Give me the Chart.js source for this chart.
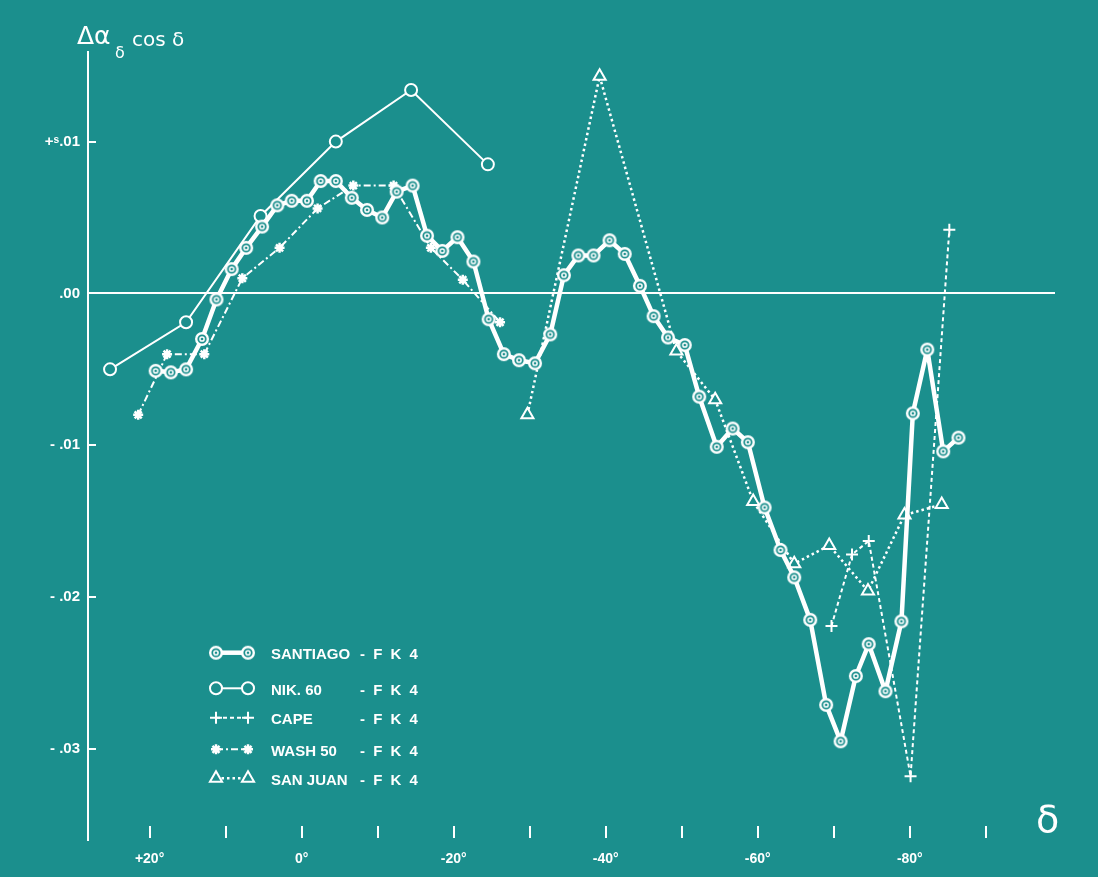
<!DOCTYPE html>
<html><head><meta charset="utf-8">
<script src="https://cdn.jsdelivr.net/npm/chart.js@4/dist/chart.umd.min.js"></script>
<style>
html,body{margin:0;padding:0;background:#1b8f8d;}
#wrap{position:relative;width:1098px;height:877px;overflow:hidden;background:#1b8f8d;}
#c{position:absolute;left:0;top:0;}
.t{position:absolute;color:#fff;white-space:pre;line-height:1;}
.leg{font:bold 15px 'Liberation Sans',Arial,sans-serif;}
.fk{letter-spacing:2px;}
.sym{font-family:'DejaVu Sans',sans-serif;}
</style></head><body>
<div id="wrap">
<canvas id="c" width="1098" height="877"></canvas>
<div class="t sym" style="left:77px;top:23px;font-size:25px;">Δα</div>
<div class="t sym" style="left:115px;top:45px;font-size:16px;">δ</div>
<div class="t sym" style="left:132px;top:29px;font-size:20px;">cos δ</div>
<div class="t sym" style="left:1036px;top:800px;font-size:38px;">δ</div>
<div class="t leg" style="left:271px;top:645px;">SANTIAGO</div><div class="t leg fk" style="left:360px;top:645px;">- F K 4</div>
<div class="t leg" style="left:271px;top:681px;">NIK. 60</div><div class="t leg fk" style="left:360px;top:681px;">- F K 4</div>
<div class="t leg" style="left:271px;top:710px;">CAPE</div><div class="t leg fk" style="left:360px;top:710px;">- F K 4</div>
<div class="t leg" style="left:271px;top:742px;">WASH 50</div><div class="t leg fk" style="left:360px;top:742px;">- F K 4</div>
<div class="t leg" style="left:271px;top:771px;">SAN JUAN</div><div class="t leg fk" style="left:360px;top:771px;">- F K 4</div>
</div>
<script>
// ---- data (declination in degrees, Δα_δ cos δ in seconds of time) ----
const santiagoDec = [19.2,17.2,15.2,13.1,11.2,9.2,7.3,5.2,3.2,1.3,-0.7,-2.5,-4.5,-6.6,-8.6,-10.6,-12.5,-14.6,-16.5,-18.5,-20.5,-22.6,-24.6,-26.6,-28.6,-30.7,-32.7,-34.5,-36.4,-38.4,-40.5,-42.5,-44.5,-46.3,-48.2,-50.4,-52.3,-54.6,-56.7,-58.7,-60.9,-63.0,-64.8,-66.9,-69.0,-70.9,-72.9,-74.6,-76.8,-78.9,-80.4,-82.3,-84.4,-86.4];
const santiagoVal = [-0.0051,-0.0052,-0.0050,-0.0030,-0.0004,0.0016,0.0030,0.0044,0.0058,0.0061,0.0061,0.0074,0.0074,0.0063,0.0055,0.0050,0.0067,0.0071,0.0038,0.0028,0.0037,0.0021,-0.0017,-0.0040,-0.0044,-0.0046,-0.0027,0.0012,0.0025,0.0025,0.0035,0.0026,0.0005,-0.0015,-0.0029,-0.0034,-0.0068,-0.0101,-0.0089,-0.0098,-0.0141,-0.0169,-0.0187,-0.0215,-0.0271,-0.0295,-0.0252,-0.0231,-0.0262,-0.0216,-0.0079,-0.0037,-0.0104,-0.0095];
const nikDec = [25.2,15.2,5.4,-4.5,-14.4,-24.5];
const nikVal = [-0.0050,-0.0019,0.0051,0.0100,0.0134,0.0085];
const capeDec = [-69.7,-72.4,-74.6,-80.1,-85.2];
const capeVal = [-0.0219,-0.0172,-0.0163,-0.0318,0.0042];
const washDec = [21.5,17.7,12.8,7.8,2.9,-2.1,-6.8,-12.1,-17.0,-21.2,-26.1];
const washVal = [-0.0080,-0.0040,-0.0040,0.0010,0.0030,0.0056,0.0071,0.0071,0.0030,0.0009,-0.0019];
const sanJuanDec = [-29.7,-39.2,-49.3,-54.4,-59.4,-64.8,-69.4,-74.5,-79.3,-84.2];
const sanJuanVal = [-0.0080,0.0143,-0.0038,-0.0070,-0.0137,-0.0178,-0.0166,-0.0196,-0.0146,-0.0139];
const seriesNames = ['SANTIAGO','NIK. 60','CAPE','WASH 50','SAN JUAN'];
const xTickValues = [20,10,0,-10,-20,-30,-40,-50,-60,-70,-80,-90];
const xLabelValues = [20,0,-20,-40,-60,-80];
const xLabelTexts = ['+20°','0°','-20°','-40°','-60°','-80°'];
const yTickValues = [0.01,0,-0.01,-0.02,-0.03];
const yTickLabels = ['+ˢ.01','.00','- .01','- .02','- .03'];

const TEAL = '#1b8f8d';
const WHITE = '#ffffff';

function pts(xs, ys){ return xs.map((x,i)=>({x:x, y:ys[i]})); }

// double-circle marker for Santiago
const dbl = document.createElement('canvas');
dbl.width = 18; dbl.height = 18;
(function(){
  const g = dbl.getContext('2d');
  g.beginPath(); g.arc(9,9,5.8,0,Math.PI*2);
  g.fillStyle = TEAL; g.fill();
  g.lineWidth = 2.4; g.strokeStyle = WHITE; g.stroke();
  g.beginPath(); g.arc(9,9,2.1,0,Math.PI*2);
  g.lineWidth = 1.5; g.stroke();
})();

const datasets = [
  {label:seriesNames[0], data:pts(santiagoDec,santiagoVal), borderColor:WHITE, borderWidth:4.5, borderJoinStyle:'round',
   pointStyle:dbl, pointRadius:6, backgroundColor:TEAL},
  {label:seriesNames[1], data:pts(nikDec,nikVal), borderColor:WHITE, borderWidth:2,
   pointStyle:'circle', pointRadius:6, pointBorderWidth:2, pointBackgroundColor:TEAL, pointBorderColor:WHITE},
  {label:seriesNames[2], data:pts(capeDec,capeVal), borderColor:WHITE, borderWidth:2, borderDash:[4,3],
   pointStyle:'cross', pointRadius:6, pointBorderWidth:2, pointBorderColor:WHITE},
  {label:seriesNames[3], data:pts(washDec,washVal), borderColor:WHITE, borderWidth:2, borderDash:[7,3,2,3],
   pointStyle:'star', pointRadius:5, pointBorderWidth:2.5, pointBorderColor:WHITE},
  {label:seriesNames[4], data:pts(sanJuanDec,sanJuanVal), borderColor:WHITE, borderWidth:2.5, borderDash:[2.5,3],
   pointStyle:'triangle', pointRadius:7, pointBorderWidth:2, pointBackgroundColor:TEAL, pointBorderColor:WHITE}
];
datasets.forEach(d=>{ d.showLine = true; d.tension = 0; d.clip = false; d.fill = false; });

const labelFont = {family:"'Liberation Sans','DejaVu Sans',sans-serif", weight:'bold', size:14};

function legendPoint(ctx, ds, x, y){
  ctx.save();
  ctx.fillStyle = ds.pointBackgroundColor || TEAL;
  ctx.strokeStyle = WHITE;
  ctx.lineWidth = ds.pointBorderWidth || 2;
  Chart.helpers.drawPoint(ctx, {pointStyle: ds.pointStyle, radius: ds.pointRadius, borderWidth: ds.pointBorderWidth||2, rotation:0}, x, y);
  ctx.restore();
}

// tick marks (x: free-standing marks, y: inward marks) and legend samples
const decor = {
  id:'decor',
  afterDraw(chart){
    const ctx = chart.ctx, xs = chart.scales.x, ys = chart.scales.y, ca = chart.chartArea;
    ctx.save();
    ctx.strokeStyle = WHITE; ctx.lineWidth = 2;
    xTickValues.forEach(v=>{
      const px = Math.round(xs.getPixelForValue(v));
      ctx.beginPath(); ctx.moveTo(px, 826); ctx.lineTo(px, 838); ctx.stroke();
    });
    yTickValues.forEach(v=>{
      if (v === 0) return;
      const py = Math.round(ys.getPixelForValue(v));
      ctx.beginPath(); ctx.moveTo(ca.left, py); ctx.lineTo(ca.left+8, py); ctx.stroke();
    });
    const rows = [652.7, 688.3, 717.7, 749.3, 778.3];
    const x1 = 216, x2 = 248;
    chart.data.datasets.forEach((ds,i)=>{
      const y = rows[i];
      ctx.save();
      ctx.strokeStyle = WHITE;
      ctx.lineWidth = ds.borderWidth;
      ctx.setLineDash(ds.borderDash || []);
      ctx.beginPath(); ctx.moveTo(x1, y); ctx.lineTo(x2, y); ctx.stroke();
      ctx.restore();
      legendPoint(ctx, ds, x1, y);
      legendPoint(ctx, ds, x2, y);
    });
    ctx.restore();
  }
};

new Chart(document.getElementById('c'), {
  type:'scatter',
  data:{datasets:datasets},
  options:{
    responsive:false,
    animation:false,
    devicePixelRatio:1,
    layout:{padding:{left:0, top:52, right:43, bottom:0}},
    plugins:{legend:{display:false}, tooltip:{enabled:false}},
    scales:{
      x:{
        type:'linear', reverse:true, min:-99.1, max:28.1,
        grid:{display:false}, border:{display:false},
        afterBuildTicks(s){ s.ticks = xTickValues.map(v=>({value:v})); },
        afterFit(s){ s.height = 37; },
        ticks:{color:WHITE, padding:3, autoSkip:false, maxRotation:0, minRotation:0,
          font:{family:labelFont.family, weight:'bold', size:14},
          callback(v){ const i = xLabelValues.indexOf(v); return i >= 0 ? xLabelTexts[i] : ''; }}
      },
      y:{
        type:'linear', min:-0.036, max:0.0159,
        grid:{drawTicks:false, lineWidth:2,
          color(c){ return (c.tick && Math.abs(c.tick.value) < 1e-9) ? WHITE : 'rgba(0,0,0,0)'; }},
        border:{display:true, color:WHITE, width:2},
        afterBuildTicks(s){ s.ticks = yTickValues.map(v=>({value:v})); },
        afterFit(s){ s.width = 88; },
        ticks:{color:WHITE, padding:8, font:{family:labelFont.family, weight:'bold', size:15},
          callback(v){ const i = yTickValues.findIndex(t=>Math.abs(t-v)<1e-9); return i >= 0 ? yTickLabels[i] : ''; }}
      }
    }
  },
  plugins:[decor]
});
</script>
</body></html>
